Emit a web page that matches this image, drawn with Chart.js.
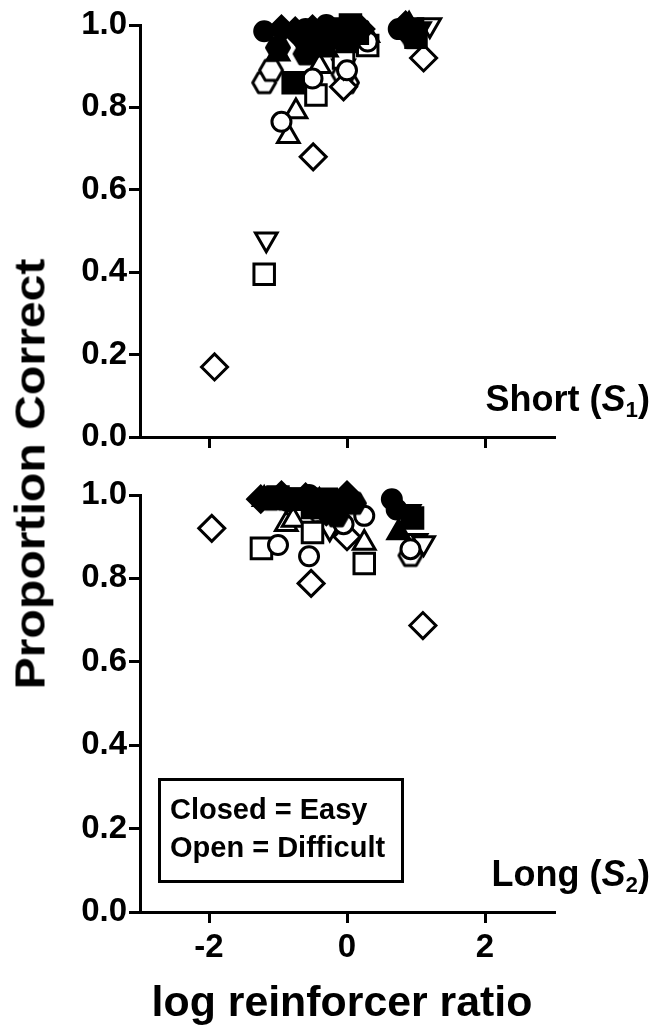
<!DOCTYPE html>
<html>
<head>
<meta charset="utf-8">
<script src="https://cdn.jsdelivr.net/npm/chart.js@4.4.1/dist/chart.umd.min.js"></script>
<style>
  html, body { margin: 0; padding: 0; background: #fff; }
  body { width: 658px; height: 1027px; position: relative; overflow: hidden;
         font-family: "Liberation Sans", Arial, Helvetica, sans-serif; font-weight: bold; color: #000; }
  canvas { position: absolute; left: 0; }
  #cShort { top: 0; }
  #cLong { top: 470px; }
  .lbl { position: absolute; white-space: nowrap; font-weight: bold; line-height: 1; }
  .lbl sub { font-size: 0.62em; vertical-align: -0.28em; line-height: 0; }
  #ytitle { left: 30px; top: 474px; font-size: 43px; transform: translate(-50%, -50%) rotate(-90deg) scaleX(1.12); }
  #xtitle { left: 342px; top: 981px; font-size: 42px; transform: translateX(-50%) scaleX(1.02); }
  .panel { right: 8px; font-size: 36px; }
  #lblShort { top: 381px; }
  #lblLong { top: 856px; }
  #key { position: absolute; left: 158px; top: 778px; width: 246px; height: 105px; box-sizing: border-box;
         border: 3px solid #000; padding: 9px 0 0 9px; font-size: 29px; line-height: 38px; }
</style>
</head>
<body>
<canvas id="cShort" width="658" height="470"></canvas>
<canvas id="cLong" width="658" height="557"></canvas>
<div class="lbl" id="ytitle">Proportion Correct</div>
<div class="lbl" id="xtitle">log reinforcer ratio</div>
<div class="lbl panel" id="lblShort">Short (<i>S</i><sub>1</sub>)</div>
<div class="lbl panel" id="lblLong">Long (<i>S</i><sub>2</sub>)</div>
<div id="key">Closed = Easy<br>Open = Difficult</div>
<script>
// Axis ticks
const xTicks = [-2, 0, 2];
const yTicks = [0, 0.2, 0.4, 0.6, 0.8, 1.0];

// Short (S1) samples: [log reinforcer ratio, proportion correct]
const shortEasyCircle   = [[-1.2, 0.985], [-0.6, 0.99], [-0.35, 0.985], [-0.3, 1.0], [0.0, 0.99], [0.1, 1.0], [0.75, 0.99], [0.9, 0.98]];
const shortEasySquare   = [[-0.78, 0.86], [-0.4, 0.97], [-0.2, 0.99], [0.0, 0.96], [0.05, 1.0], [0.15, 0.98], [0.95, 0.99], [1.0, 0.97]];
const shortEasyTriUp    = [[-1.0, 0.93], [-0.55, 0.95], [-0.3, 0.94], [-0.2, 0.97], [0.9, 1.0]];
const shortEasyTriDown  = [[-0.7, 0.97], [-0.45, 0.99], [-0.1, 0.99], [1.05, 0.99]];
const shortEasyDiamond  = [[-0.95, 0.99], [-0.75, 0.985], [-0.5, 0.99], [0.2, 0.99], [0.85, 1.0]];
const shortEasyHex      = [[-1.0, 0.945], [-0.6, 0.93], [-0.3, 0.96], [0.95, 0.97]];

const shortHardCircle   = [[-0.95, 0.765], [-0.5, 0.87], [0.0, 0.89], [0.3, 0.96], [0.8, 0.99]];
const shortHardSquare   = [[-1.2, 0.395], [-0.45, 0.83], [-0.05, 0.92], [0.3, 0.95]];
const shortHardTriUp    = [[-0.85, 0.73], [-0.74, 0.79], [-0.4, 0.9], [0.3, 0.975]];
const shortHardTriDown  = [[-1.17, 0.48], [-0.45, 0.95], [-0.05, 0.9], [1.2, 1.0]];
const shortHardDiamond  = [[-1.92, 0.17], [-0.49, 0.68], [-0.05, 0.85], [1.11, 0.92]];
const shortHardHex      = [[-1.2, 0.86], [-1.1, 0.89], [0.0, 0.86], [-0.05, 0.88]];

// Long (S2) samples
const longEasyCircle    = [[-1.15, 0.995], [-0.85, 0.985], [-0.55, 1.0], [-0.1, 0.98], [0.65, 0.99], [0.72, 0.965]];
const longEasySquare    = [[-1.0, 0.995], [-0.7, 0.99], [-0.5, 0.97], [-0.3, 0.99], [0.95, 0.945]];
const longEasyTriUp     = [[-1.2, 0.99], [-0.4, 0.985], [0.0, 0.995], [0.75, 0.91]];
const longEasyTriDown   = [[-0.8, 1.0], [-0.5, 0.995], [-0.2, 0.99], [0.9, 0.96]];
const longEasyDiamond   = [[-1.25, 0.99], [-0.95, 1.0], [-0.6, 0.995], [-0.3, 0.96], [0.0, 1.0]];
const longEasyHex       = [[-1.1, 0.99], [-0.9, 0.99], [-0.45, 0.985], [-0.15, 0.95], [0.1, 0.98]];

const longHardCircle    = [[-1.0, 0.88], [-0.55, 0.853], [-0.05, 0.93], [0.25, 0.95], [0.92, 0.87]];
const longHardSquare    = [[-1.24, 0.872], [-0.5, 0.91], [0.25, 0.836]];
const longHardTriUp     = [[-0.88, 0.93], [-0.78, 0.94], [0.25, 0.885]];
const longHardTriDown   = [[-0.25, 0.92], [1.0, 0.89], [1.11, 0.885]];
const longHardDiamond   = [[-1.96, 0.92], [-0.52, 0.788], [0.0, 0.9], [1.1, 0.687]];
const longHardHex       = [[-0.4, 0.96], [-0.1, 0.93], [0.92, 0.855]];

// Flat-topped hexagon marker drawn onto a small canvas
function hexMarker(filled) {
  const s = 28, r = 11.5;
  const c = document.createElement('canvas');
  c.width = s; c.height = s;
  const g = c.getContext('2d');
  g.beginPath();
  for (let i = 0; i < 6; i++) {
    const a = Math.PI / 3 * i;
    const px = s / 2 + r * Math.cos(a), py = s / 2 + r * Math.sin(a);
    if (i === 0) g.moveTo(px, py); else g.lineTo(px, py);
  }
  g.closePath();
  g.fillStyle = filled ? '#000' : '#fff';
  g.fill();
  g.lineWidth = 3;
  g.lineJoin = 'round';
  g.strokeStyle = '#000';
  g.stroke();
  return c;
}
const hexFilled = hexMarker(true);
const hexOpen = hexMarker(false);

const shapes = {
  circle:  { pointStyle: 'circle',   pointRadius: 9.5, pointRotation: 0 },
  square:  { pointStyle: 'rect',     pointRadius: 14.5, pointRotation: 0 },
  triUp:   { pointStyle: 'triangle', pointRadius: 12.5, pointRotation: 0 },
  triDown: { pointStyle: 'triangle', pointRadius: 12.5, pointRotation: 180 },
  diamond: { pointStyle: 'rectRot',  pointRadius: 13, pointRotation: 0 }
};

function series(pairs, shape, filled) {
  const base = shape === 'hex'
    ? { pointStyle: filled ? hexFilled : hexOpen, pointRadius: 12, pointRotation: 0 }
    : shapes[shape];
  return Object.assign({
    data: pairs.map(p => ({ x: p[0], y: p[1] })),
    showLine: false,
    clip: false,
    backgroundColor: filled ? '#000' : '#fff',
    borderColor: '#000',
    borderWidth: 3,
    pointBorderWidth: 3
  }, base);
}

const tickFont = { family: '"Liberation Sans", Arial, sans-serif', size: 33, weight: 'bold' };

function panelConfig(sets, showXLabels, xHeight) {
  return {
    type: 'scatter',
    data: { datasets: sets },
    options: {
      responsive: false,
      animation: false,
      events: [],
      layout: { padding: { left: 0, right: 104, top: 25, bottom: 0 } },
      plugins: { legend: { display: false }, tooltip: { enabled: false } },
      scales: {
        x: {
          type: 'linear', min: -3, max: 3,
          afterBuildTicks: s => { s.ticks = xTicks.map(v => ({ value: v })); },
          afterFit: s => { s.height = xHeight; },
          border: { display: true, color: '#000', width: 3 },
          grid: { drawOnChartArea: false, drawTicks: true, tickLength: 11, color: '#000', lineWidth: 3 },
          ticks: {
            display: showXLabels, color: '#000', padding: 5, maxRotation: 0,
            font: tickFont,
            callback: v => String(v)
          }
        },
        y: {
          type: 'linear', min: 0, max: 1,
          afterBuildTicks: s => { s.ticks = yTicks.map(v => ({ value: v })); },
          afterFit: s => { s.width = 140; },
          border: { display: true, color: '#000', width: 3 },
          grid: { drawOnChartArea: false, drawTicks: true, tickLength: 11, color: '#000', lineWidth: 3 },
          ticks: {
            color: '#000', padding: 2,
            font: tickFont,
            callback: v => Number(v).toFixed(1)
          }
        }
      }
    }
  };
}

// Filled (easy) markers first, open (difficult) markers on top
const shortSets = [
  series(shortEasyCircle, 'circle', true),
  series(shortEasySquare, 'square', true),
  series(shortEasyTriUp, 'triUp', true),
  series(shortEasyTriDown, 'triDown', true),
  series(shortEasyDiamond, 'diamond', true),
  series(shortEasyHex, 'hex', true),
  series(shortHardCircle, 'circle', false),
  series(shortHardSquare, 'square', false),
  series(shortHardTriUp, 'triUp', false),
  series(shortHardTriDown, 'triDown', false),
  series(shortHardDiamond, 'diamond', false),
  series(shortHardHex, 'hex', false)
];
const longSets = [
  series(longEasyCircle, 'circle', true),
  series(longEasySquare, 'square', true),
  series(longEasyTriUp, 'triUp', true),
  series(longEasyTriDown, 'triDown', true),
  series(longEasyDiamond, 'diamond', true),
  series(longEasyHex, 'hex', true),
  series(longHardCircle, 'circle', false),
  series(longHardSquare, 'square', false),
  series(longHardTriUp, 'triUp', false),
  series(longHardTriDown, 'triDown', false),
  series(longHardDiamond, 'diamond', false),
  series(longHardHex, 'hex', false)
];

new Chart(document.getElementById('cShort'), panelConfig(shortSets, false, 470 - 437));
new Chart(document.getElementById('cLong'), panelConfig(longSets, true, 557 - 442));
</script>
</body>
</html>
